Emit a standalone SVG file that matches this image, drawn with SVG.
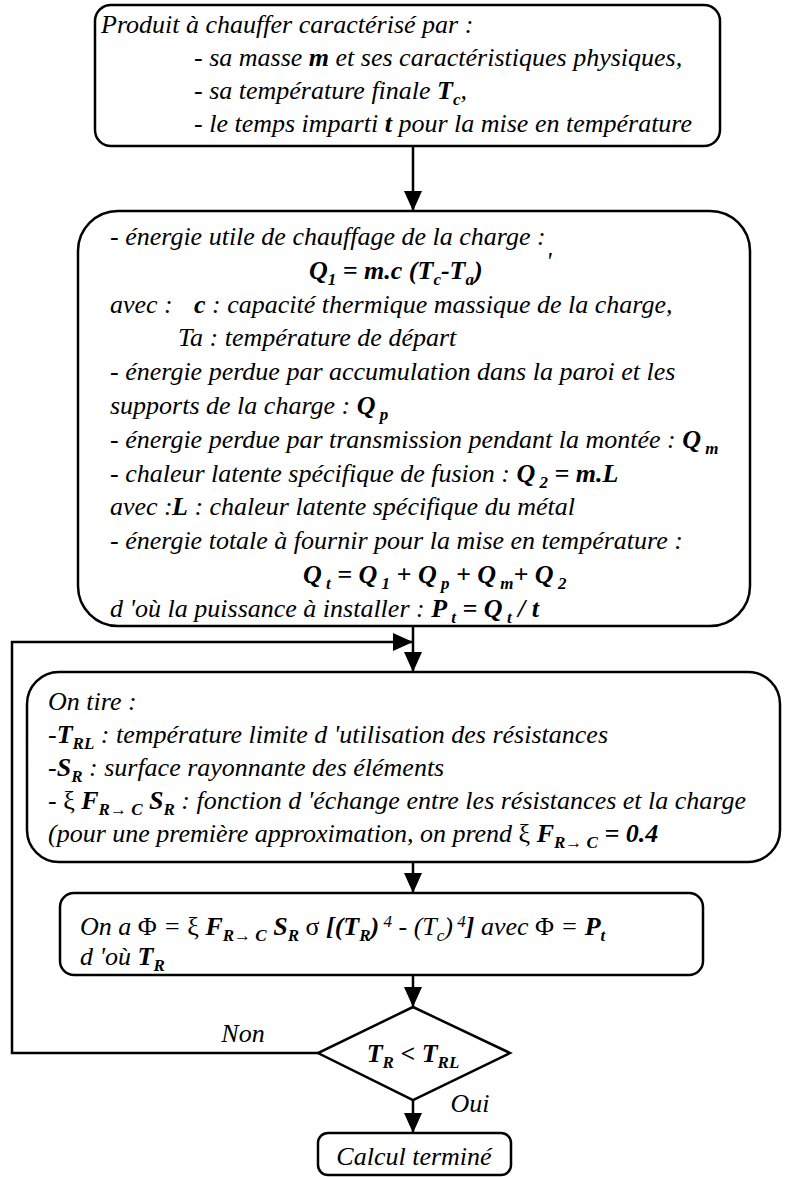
<svg xmlns="http://www.w3.org/2000/svg" width="785" height="1177" viewBox="0 0 785 1177">
<style>
text{font-family:"Liberation Serif","Tinos","Times New Roman","DejaVu Serif",serif;font-style:italic;font-size:26px;fill:#000}
.b{font-weight:bold}
.n{font-style:normal}
.box{fill:#fff;stroke:#000;stroke-width:2.5}
.ln{fill:none;stroke:#000;stroke-width:2.5}
</style>
<defs>
<marker id="ah" viewBox="0 0 20 18" refX="20" refY="9" markerWidth="20" markerHeight="18" markerUnits="userSpaceOnUse" orient="auto">
<path d="M0,0 L20,9 L0,18 z" fill="#000"/>
</marker>
</defs>
<rect width="785" height="1177" fill="#fff"/>

<g id="connectors">
<line class="ln" x1="413" y1="146" x2="413" y2="211" marker-end="url(#ah)"/>
<line class="ln" x1="413" y1="626" x2="413" y2="672" marker-end="url(#ah)"/>
<polyline class="ln" points="318,1053 12,1053 12,642 413,642" marker-end="url(#ah)"/>
<line class="ln" x1="413" y1="862" x2="413" y2="893" marker-end="url(#ah)"/>
<line class="ln" x1="413" y1="975" x2="413" y2="1007" marker-end="url(#ah)"/>
<line class="ln" x1="413" y1="1100" x2="413" y2="1133" marker-end="url(#ah)"/>
<text x="243" y="1042" text-anchor="middle">Non</text>
<text x="470" y="1112" text-anchor="middle">Oui</text>
</g>

<g id="produit">
<rect class="box" x="95" y="5" width="625" height="141" rx="16"/>
<text x="101" y="33">Produit à chauffer caractérisé par :</text>
<text x="194" y="66">- sa masse <tspan class="b">m</tspan> et ses caractéristiques physiques,</text>
<text x="194" y="99">- sa température finale <tspan class="b">T</tspan><tspan class="b" font-size="17" baseline-shift="-6">c</tspan>,</text>
<text x="194" y="132">- le temps imparti <tspan class="b">t</tspan> pour la mise en température</text>
</g>

<g id="energie">
<rect class="box" x="78" y="211" width="672" height="415" rx="40"/>
<text x="110" y="245">- énergie utile de chauffage de la charge :</text>
<text x="309" y="279" class="b">Q<tspan font-size="17" baseline-shift="-6">1</tspan> = m.c (T<tspan font-size="17" baseline-shift="-6">c</tspan>-T<tspan font-size="17" baseline-shift="-6">a</tspan>)</text>
<text x="546" y="270" font-size="12">'</text>
<text x="110" y="313">avec :</text>
<text x="194" y="313"><tspan class="b">c</tspan> : capacité thermique massique de la charge,</text>
<text x="178" y="346">Ta : température de départ</text>
<text x="110" y="380">- énergie perdue par accumulation dans la paroi et les</text>
<text x="110" y="414">supports de la charge : <tspan class="b">Q</tspan><tspan class="b" font-size="17" baseline-shift="-6"> p</tspan></text>
<text x="110" y="448">- énergie perdue par transmission pendant la montée : <tspan class="b">Q</tspan><tspan class="b" font-size="17" baseline-shift="-6"> m</tspan></text>
<text x="110" y="482">- chaleur latente spécifique de fusion : <tspan class="b">Q</tspan><tspan class="b" font-size="17" baseline-shift="-6"> 2</tspan><tspan class="b"> = m.L</tspan></text>
<text x="110" y="515">avec :</text>
<text x="172" y="515"><tspan class="b">L</tspan> : chaleur latente spécifique du métal</text>
<text x="110" y="549">- énergie totale à fournir pour la mise en température :</text>
<text x="303" y="583" class="b">Q<tspan font-size="17" baseline-shift="-6"> t</tspan> = Q<tspan font-size="17" baseline-shift="-6"> 1</tspan> + Q<tspan font-size="17" baseline-shift="-6"> p</tspan> + Q<tspan font-size="17" baseline-shift="-6"> m</tspan>+ Q<tspan font-size="17" baseline-shift="-6"> 2</tspan></text>
<text x="110" y="617">d 'où la puissance à installer : <tspan class="b">P</tspan><tspan class="b" font-size="17" baseline-shift="-6"> t</tspan><tspan class="b"> = Q</tspan><tspan class="b" font-size="17" baseline-shift="-6"> t</tspan><tspan class="b"> / t</tspan></text>
</g>

<g id="ontire">
<rect class="box" x="27" y="672" width="753" height="190" rx="32"/>
<text x="48" y="710">On tire :</text>
<text x="48" y="743">-<tspan class="b">T</tspan><tspan class="b" font-size="17" baseline-shift="-6">RL</tspan> : température limite d 'utilisation des résistances</text>
<text x="48" y="776">-<tspan class="b">S</tspan><tspan class="b" font-size="17" baseline-shift="-6">R</tspan> : surface rayonnante des éléments</text>
<text x="48" y="809">- <tspan class="n">ξ</tspan> <tspan class="b">F</tspan><tspan class="b" font-size="17" baseline-shift="-6">R→ C</tspan> <tspan class="b">S</tspan><tspan class="b" font-size="17" baseline-shift="-6">R</tspan> : fonction d 'échange entre les résistances et la charge</text>
<text x="48" y="842">(pour une première approximation, on prend <tspan class="n">ξ</tspan> <tspan class="b">F</tspan><tspan class="b" font-size="17" baseline-shift="-6">R→ C</tspan><tspan class="b"> = 0.4</tspan></text>
</g>

<g id="phi">
<rect class="box" x="60" y="893" width="643" height="82" rx="14"/>
<text x="80" y="935">On a <tspan class="n">Φ</tspan>  = <tspan class="n">ξ</tspan> <tspan class="b">F</tspan><tspan class="b" font-size="17" baseline-shift="-6">R→ C</tspan> <tspan class="b">S</tspan><tspan class="b" font-size="17" baseline-shift="-6">R</tspan> <tspan class="n">σ</tspan>  <tspan class="b">[(T</tspan><tspan class="b" font-size="17" baseline-shift="-6">R</tspan><tspan class="b">)</tspan><tspan font-size="17" baseline-shift="8"> 4</tspan> - (T<tspan font-size="17" baseline-shift="-6">c</tspan>)<tspan font-size="17" baseline-shift="8"> 4</tspan><tspan class="b">]</tspan> avec <tspan class="n">Φ</tspan> = <tspan class="b">P</tspan><tspan class="b" font-size="17" baseline-shift="-6">t</tspan></text>
<text x="80" y="965">d 'où <tspan class="b">T</tspan><tspan class="b" font-size="17" baseline-shift="-6">R</tspan></text>
</g>

<g id="test">
<polygon class="box" points="413,1007 510,1053 413,1100 318,1053"/>
<text x="413" y="1062" text-anchor="middle" class="b">T<tspan font-size="17" baseline-shift="-6">R</tspan> &lt; T<tspan font-size="17" baseline-shift="-6">RL</tspan></text>
</g>

<g id="fin">
<rect class="box" x="318" y="1133" width="193" height="42" rx="10"/>
<text x="414" y="1165" text-anchor="middle">Calcul terminé</text>
</g>
</svg>
